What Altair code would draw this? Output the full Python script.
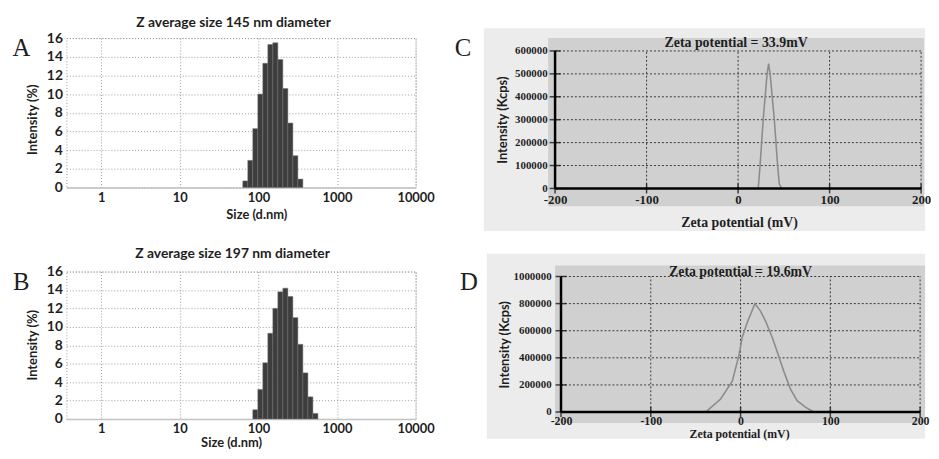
import altair as alt
import pandas as pd

# ---------------- data ----------------
a_size = [68.06, 78.82, 91.28, 105.7, 122.4, 141.8, 164.2, 190.1, 220.2, 255.0, 295.3, 342.0]
a_intensity = [0.7, 2.9, 6.3, 10.0, 13.3, 15.3, 15.5, 13.7, 10.6, 6.9, 3.4, 0.9]

b_size = [91.28, 105.7, 122.4, 141.8, 164.2, 190.1, 220.2, 255.0, 295.3, 342.0, 396.1, 458.7, 531.2]
b_intensity = [1.0, 3.2, 6.1, 9.3, 12.0, 13.8, 14.2, 13.3, 11.0, 8.1, 5.0, 2.4, 0.6]

c_zeta = [22.0, 24.0, 27.4, 31.7, 33.4, 35.0, 39.6, 43.2, 45.0, 47.6]
c_kcps = [0, 100000, 300000, 500000, 545000, 500000, 300000, 100000, 20000, 0]

d_zeta = [-38.9, -22.2, -9.2, -1.8, 1.9, 7.4, 16.0, 22.2, 27.8, 35.2, 40.8, 48.2, 55.6, 63.0, 72.2, 81.5]
d_kcps = [0, 96000, 228000, 420000, 552000, 660000, 800000, 745000, 672000, 552000, 444000, 300000, 168000, 84000, 36000, 0]

size_ticks = [1, 10, 100, 1000, 10000]
pct_ticks = [0, 2, 4, 6, 8, 10, 12, 14, 16]
zeta_ticks = [-200, -100, 0, 100, 200]
c_kcps_ticks = [0, 100000, 200000, 300000, 400000, 500000, 600000]
d_kcps_ticks = [0, 200000, 400000, 600000, 800000, 1000000]

title_a = "Z average size 145 nm diameter"
title_b = "Z average size 197 nm diameter"
title_c = "Zeta potential = 33.9mV"
title_d = "Zeta potential = 19.6mV"

SANS = "Lato"
SERIF = "Liberation Serif"
INK = "#1e1e1e"
LIGHT = "#ececec"
DARK = "#d0d0d0"

# Malvern size classes: 70 log-spaced bins from 0.4 to 10000 nm
HALF = (10000 / 0.4) ** (1 / 138)


def size_panel(sizes, vals, title, letter, title_xy, xt_x, xt_y, yt_y, height):
    df = pd.DataFrame({"size": sizes, "intensity": vals})
    df["lo"] = df["size"] / HALF
    df["hi"] = df["size"] * HALF
    df["base"] = 0
    xs = alt.Scale(type="log", domain=[0.36, 10000], nice=False, padding=0)
    ys = alt.Scale(domain=[0, 16], nice=False, padding=0)
    xaxis = alt.Axis(values=size_ticks, format="d", title="Size (d.nm)",
                     labelFont=SANS, labelFontWeight="bold", labelFontSize=13,
                     labelColor=INK, labelPadding=4, ticks=False, labelFlush=False,
                     domainColor="#c4c4c4", domainWidth=1.5,
                     gridColor="#9c9c9c", gridDash=[1, 2], gridWidth=1,
                     titleFont=SANS, titleFontWeight="bold", titleFontSize=13,
                     titleColor=INK, titleX=xt_x, titleY=xt_y,
                     titleAlign="center", titleBaseline="middle")
    yaxis = alt.Axis(values=pct_ticks, title="Intensity (%)",
                     labelFont=SANS, labelFontWeight="bold", labelFontSize=14,
                     labelColor=INK, labelPadding=4, ticks=False, domain=False,
                     gridColor="#9c9c9c", gridDash=[1, 2], gridWidth=1,
                     titleFont=SANS, titleFontWeight="bold", titleFontSize=13,
                     titleColor=INK, titleX=-34, titleY=yt_y, titleAngle=270,
                     titleAlign="center", titleBaseline="middle")
    bars = alt.Chart(df).mark_rect(fill="#3d3d3d", stroke="#737373", strokeWidth=0.5).encode(
        x=alt.X("lo:Q", scale=xs, axis=xaxis),
        x2="hi:Q",
        y=alt.Y("intensity:Q", scale=ys, axis=yaxis),
        y2="base:Q",
    )
    lab = alt.Chart(pd.DataFrame({"t": [letter]})).mark_text(
        font=SERIF, fontSize=25, align="center", baseline="middle", color=INK
    ).encode(text="t:N", x=alt.value(-45.5), y=alt.value(10.5))
    ttl = alt.Chart(pd.DataFrame({"t": [title]})).mark_text(
        font=SANS, fontSize=14, fontWeight="bold", align="center", baseline="middle", color=INK
    ).encode(text="t:N", x=alt.value(title_xy[0]), y=alt.value(title_xy[1]))
    return alt.layer(bars, lab, ttl).properties(
        width=353, height=height,
        view=alt.ViewConfig(stroke="#9c9c9c", strokeDash=[1, 2], fill="white"),
    )


def zeta_panel(zeta, kcps, kticks, title, letter, height, xdom, ydom, light, dark,
               title_xy, letter_xy, ylab_offset, yt_xy, xlab_size, xlab_pad, xt_xy, xt_size):
    one = pd.DataFrame({"k": [0]})
    xs = alt.Scale(domain=xdom, nice=False, zero=False, padding=0)
    ys = alt.Scale(domain=ydom, nice=False, zero=False, padding=0)
    xaxis = alt.Axis(values=zeta_ticks, labelExpr="'' + datum.value", title="Zeta potential (mV)",
                     labelFont=SERIF, labelFontWeight="bold", labelFontSize=xlab_size,
                     labelColor=INK, labelPadding=xlab_pad, ticks=False, domain=False,
                     grid=False, zindex=1, labelFlush=False,
                     titleFont=SERIF, titleFontWeight="bold", titleFontSize=xt_size,
                     titleColor=INK, titleX=xt_xy[0], titleY=xt_xy[1],
                     titleAlign="center", titleBaseline="middle")
    yaxis = alt.Axis(values=kticks, format="d", title="Intensity (Kcps)",
                     labelFont=SERIF, labelFontWeight="bold", labelFontSize=11,
                     labelColor=INK, labelPadding=1, offset=ylab_offset,
                     ticks=False, domain=False, grid=False, zindex=1,
                     titleFont=SANS, titleFontWeight="bold", titleFontSize=13,
                     titleColor=INK, titleX=yt_xy[0], titleY=yt_xy[1], titleAngle=270,
                     titleAlign="center", titleBaseline="middle")

    bg_light = alt.Chart(one).mark_rect(fill=LIGHT).encode(
        x=alt.value(light[0]), x2=alt.value(light[1]),
        y=alt.value(light[2]), y2=alt.value(light[3]))
    bg_dark = alt.Chart(one).mark_rect(fill=DARK).encode(
        x=alt.value(dark[0]), x2=alt.value(dark[1]),
        y=alt.value(dark[2]), y2=alt.value(dark[3]))

    grid_h = pd.DataFrame({"k": kticks[1:], "x0": zeta_ticks[0], "x1": zeta_ticks[-1]})
    grid_v = pd.DataFrame({"z": zeta_ticks[1:], "y0": kticks[0], "y1": kticks[-1]})
    gh = alt.Chart(grid_h).mark_rule(color="#3a3a3a", strokeDash=[2, 2], strokeWidth=1).encode(
        x=alt.X("x0:Q", scale=xs, axis=xaxis), x2="x1:Q",
        y=alt.Y("k:Q", scale=ys, axis=yaxis))
    gv = alt.Chart(grid_v).mark_rule(color="#3a3a3a", strokeDash=[2, 2], strokeWidth=1).encode(
        x=alt.X("z:Q", scale=xs, axis=xaxis),
        y=alt.Y("y0:Q", scale=ys, axis=yaxis), y2="y1:Q")

    ax_x = pd.DataFrame({"x0": [zeta_ticks[0]], "x1": [zeta_ticks[-1]], "y0": [kticks[0]]})
    ax_y = pd.DataFrame({"x0": [zeta_ticks[0]], "y0": [kticks[0]], "y1": [kticks[-1]]})
    rx = alt.Chart(ax_x).mark_rule(color="black", strokeWidth=2.5).encode(
        x=alt.X("x0:Q", scale=xs, axis=xaxis), x2="x1:Q",
        y=alt.Y("y0:Q", scale=ys, axis=yaxis))
    ry = alt.Chart(ax_y).mark_rule(color="black", strokeWidth=2.5).encode(
        x=alt.X("x0:Q", scale=xs, axis=xaxis),
        y=alt.Y("y0:Q", scale=ys, axis=yaxis), y2="y1:Q")

    tx = alt.Chart(pd.DataFrame({"z": zeta_ticks, "y0": kticks[0]})).mark_tick(
        orient="vertical", size=10, thickness=1.5, color="black").encode(
        x=alt.X("z:Q", scale=xs, axis=xaxis), y=alt.Y("y0:Q", scale=ys, axis=yaxis))
    ty = alt.Chart(pd.DataFrame({"k": kticks, "x0": zeta_ticks[0]})).mark_tick(
        orient="horizontal", size=11, thickness=1.5, color="black").encode(
        x=alt.X("x0:Q", scale=xs, axis=xaxis), y=alt.Y("k:Q", scale=ys, axis=yaxis))

    line = alt.Chart(pd.DataFrame({"zeta": zeta, "kcps": kcps})).mark_line(
        color="#8c8c8c", strokeWidth=1.6).encode(
        x=alt.X("zeta:Q", scale=xs, axis=xaxis),
        y=alt.Y("kcps:Q", scale=ys, axis=yaxis))

    ttl = alt.Chart(pd.DataFrame({"t": [title]})).mark_text(
        font=SERIF, fontSize=14, fontWeight="bold", color=INK,
        align="center", baseline="middle").encode(
        text="t:N", x=alt.value(title_xy[0]), y=alt.value(title_xy[1]))
    lab = alt.Chart(pd.DataFrame({"t": [letter]})).mark_text(
        font=SERIF, fontSize=25, color=INK, align="center", baseline="middle").encode(
        text="t:N", x=alt.value(letter_xy[0]), y=alt.value(letter_xy[1]))

    return alt.layer(bg_light, bg_dark, gh, gv, line, rx, ry, tx, ty, ttl, lab).properties(
        width=380, height=height,
        view=alt.ViewConfig(stroke=None, fill=None),
    )


# panel A: plot area 67..420 x 37..188
chart_a = size_panel(a_size, a_intensity, title_a, "A", [169, -15.5], 192, 27, 82, 151)
# panel B: plot area 67..420 x 273..422
chart_b = size_panel(b_size, b_intensity, title_b, "B", [168, -17.5], 166.5, 24, 74, 149)

# panel C: plot area 548..928 x 37..189 ; -200 at 555, 200 at 925, 600000 at 50
chart_c = zeta_panel(
    c_zeta, c_kcps, c_kcps_ticks, title_c, "C", 152,
    xdom=[-200 - 7 / 0.925, 200 + 3 / 0.925],
    ydom=[0, 600000 + 13 * 600000 / 139],
    light=[-65, 381, -10, 195], dark=[0, 380, 0, 170],
    title_xy=[190, 5.5], letter_xy=[-86, 10],
    ylab_offset=0, yt_xy=[-46.5, 82.5], xlab_size=13, xlab_pad=5,
    xt_xy=[193, 34], xt_size=14)

# panel D: plot area 548..928 x 273..415 ; -200 at 561, 200 at 924, 1e6 at 278
chart_d = zeta_panel(
    d_zeta, d_kcps, d_kcps_ticks, title_d, "D", 142,
    xdom=[-200 - 13 / 0.9075, 200 + 4 / 0.9075],
    ydom=[0, 1000000 + 5 * 1000000 / 137],
    light=[-62, 381, -18, 169], dark=[7, 381, -6, 153],
    title_xy=[194.5, 0.3], letter_xy=[-80, 11],
    ylab_offset=-4, yt_xy=[-48.5, 73.5], xlab_size=12, xlab_pad=4,
    xt_xy=[193, 22], xt_size=12)

chart = alt.concat(
    chart_a, chart_c, chart_b, chart_d,
    columns=2, bounds="flush", align="all",
    spacing=alt.RowColnumber(row=84, column=107),
).properties(
    padding={"left": 3, "top": 5, "right": 0, "bottom": 0}
).configure(background="white")

chart.save("out.html", embed_options={"renderer": "svg", "actions": False})
